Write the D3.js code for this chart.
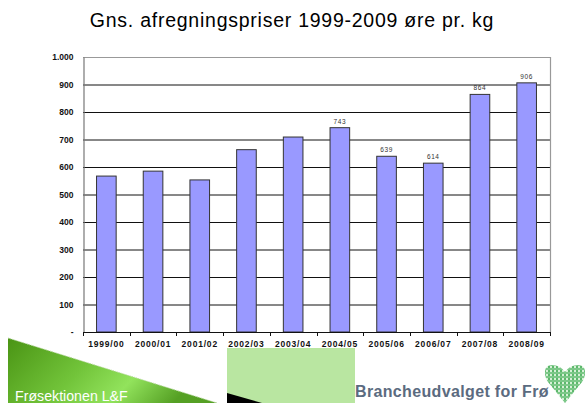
<!DOCTYPE html>
<html>
<head>
<meta charset="utf-8">
<script src="https://cdn.jsdelivr.net/npm/d3@7"></script>
<style>
  body { margin: 0; background: #fff; }
  svg { display: block; font-family: Arial, "Liberation Sans", sans-serif; }
</style>
</head>
<body>
<svg width="585" height="403"></svg>
<script>
const svg = d3.select("svg")
const width = +svg.attr("width")
const height = +svg.attr("height")

// gns. afregningspriser, øre pr. kg
const seasons = ["1999/00", "2000/01", "2001/02", "2002/03", "2003/04", "2004/05", "2005/06", "2006/07", "2007/08", "2008/09"]
const prices = [567, 585, 553, 663, 709, 743, 639, 614, 864, 906]
const labelled = [false, false, false, false, false, true, true, true, true, true]
const yTicks = [0, 100, 200, 300, 400, 500, 600, 700, 800, 900, 1000]

const margin = { top: 57, right: 35, bottom: 71, left: 83 }

const x = d3.scaleBand()
    .domain(seasons)
    .range([margin.left, width - margin.right])
    .paddingInner(0.58)
    .paddingOuter(0.29)

const y = d3.scaleLinear()
    .domain([0, 1000])
    .range([height - margin.bottom, margin.top])

const fmt = d => d === 0 ? "-" : d === 1000 ? "1.000" : d3.format("d")(d)

// titel
svg.append("text")
    .attr("x", 292)
    .attr("y", 27)
    .attr("text-anchor", "middle")
    .attr("font-size", 19.5)
    .attr("letter-spacing", 0.75)
    .attr("fill", "#000")
    .text("Gns. afregningspriser 1999-2009 øre pr. kg")

// gitterlinjer
svg.append("g")
    .selectAll("line")
    .data(yTicks.filter(d => d > 0 && d < 1000))
    .join("line")
    .attr("x1", margin.left)
    .attr("x2", width - margin.right)
    .attr("y1", d => y(d) + 0.5)
    .attr("y2", d => y(d) + 0.5)
    .attr("stroke", "#111")
    .attr("stroke-width", 1)

// ramme top og højre
svg.append("path")
    .attr("d", `M${margin.left},${y(1000) + 0.5}H${width - margin.right + 0.5}V${y(0)}`)
    .attr("fill", "none")
    .attr("stroke", "#999")
    .attr("stroke-width", 1.2)

// søjler
svg.append("g")
    .selectAll("rect")
    .data(prices)
    .join("rect")
    .attr("x", (d, i) => x(seasons[i]))
    .attr("y", d => y(d))
    .attr("width", x.bandwidth())
    .attr("height", d => y(0) - y(d))
    .attr("fill", "#9999ff")
    .attr("stroke", "#333")
    .attr("stroke-width", 1)

// dataetiketter
svg.append("g")
    .selectAll("text")
    .data(prices.filter((d, i) => labelled[i]).map((d, j) => ({ v: d, s: seasons.filter((s, i) => labelled[i])[j] })))
    .join("text")
    .attr("x", d => x(d.s) + x.bandwidth() / 2)
    .attr("y", d => y(d.v) - 4)
    .attr("text-anchor", "middle")
    .attr("font-size", 6.5)
    .attr("letter-spacing", 0.6)
    .attr("fill", "#333")
    .text(d => d.v)

// y-akse
const yAxis = svg.append("g")
    .attr("transform", `translate(${margin.left + 0.5},0)`)
    .call(d3.axisLeft(y).tickValues(yTicks).tickSize(0).tickPadding(10).tickFormat(fmt))
yAxis.select(".domain").attr("stroke", "#777").attr("stroke-width", 1.2)
yAxis.selectAll("text")
    .attr("font-size", 8.5)
    .attr("font-weight", "bold")
    .attr("font-family", "Arial, 'Liberation Sans', sans-serif")
    .attr("fill", "#111")

// x-akse
const edges = d3.range(seasons.length + 1).map(i => margin.left + i * (width - margin.left - margin.right) / seasons.length)
const xg = svg.append("g")
xg.append("line")
    .attr("x1", margin.left)
    .attr("x2", width - margin.right)
    .attr("y1", y(0) + 0.5)
    .attr("y2", y(0) + 0.5)
    .attr("stroke", "#111")
xg.selectAll(".tick")
    .data(edges)
    .join("line")
    .attr("class", "tick")
    .attr("x1", d => Math.round(d) + 0.5)
    .attr("x2", d => Math.round(d) + 0.5)
    .attr("y1", y(0))
    .attr("y2", y(0) + 4)
    .attr("stroke", "#111")
xg.selectAll("text")
    .data(seasons)
    .join("text")
    .attr("x", d => x(d) + x.bandwidth() / 2)
    .attr("y", y(0) + 15)
    .attr("text-anchor", "middle")
    .attr("font-size", 8.5)
    .attr("font-weight", "bold")
    .attr("letter-spacing", 0.8)
    .attr("fill", "#111")
    .text(d => d)

// bundbanner
const defs = svg.append("defs")
const grad = defs.append("linearGradient")
    .attr("id", "groen")
    .attr("x1", "0").attr("y1", "0").attr("x2", "1").attr("y2", "0.3")
grad.append("stop").attr("offset", "0").attr("stop-color", "#4a9414")
grad.append("stop").attr("offset", "0.45").attr("stop-color", "#72c43a")
grad.append("stop").attr("offset", "0.72").attr("stop-color", "#92e35c")
grad.append("stop").attr("offset", "1").attr("stop-color", "#55a024")

svg.append("path")
    .attr("d", "M8,338 L217,403 L8,403 Z")
    .attr("fill", "url(#groen)")
svg.append("path")
    .attr("d", "M8,338 L217,403")
    .attr("stroke", "#b8d8a0")
    .attr("stroke-width", 1)
    .attr("stroke-dasharray", "1,1")

svg.append("text")
    .attr("x", 15)
    .attr("y", 401)
    .attr("font-size", 14.2)
    .attr("fill", "#fff")
    .text("Frøsektionen L&F")

svg.append("rect")
    .attr("x", 227)
    .attr("y", 348)
    .attr("width", 128)
    .attr("height", 55)
    .attr("fill", "#b9e6a1")
svg.append("path")
    .attr("d", "M227,393 L262,403 L227,403 Z")
    .attr("fill", "#000")

svg.append("text")
    .attr("x", 355)
    .attr("y", 397)
    .attr("font-size", 16)
    .attr("font-weight", "bold")
    .attr("letter-spacing", 0.35)
    .attr("fill", "#5b6b80")
    .text("Brancheudvalget for Frø")

// hjerte-logo
const pat = defs.append("pattern")
    .attr("id", "tern")
    .attr("width", 4).attr("height", 4)
    .attr("patternUnits", "userSpaceOnUse")
pat.append("rect").attr("width", 4).attr("height", 4).attr("fill", "#d6f0d6")
pat.append("rect").attr("width", 2).attr("height", 4).attr("fill", "#5cb86c")
pat.append("rect").attr("width", 4).attr("height", 2).attr("fill", "#7cc888")

svg.append("path")
    .attr("d", "M565,403 L548,382 Q545,378 545,372 Q545,365 552,365 Q560,365 565,372 Q570,365 578,365 Q585,365 585,372 Q585,378 582,382 Z")
    .attr("fill", "url(#tern)")
</script>
</body>
</html>
